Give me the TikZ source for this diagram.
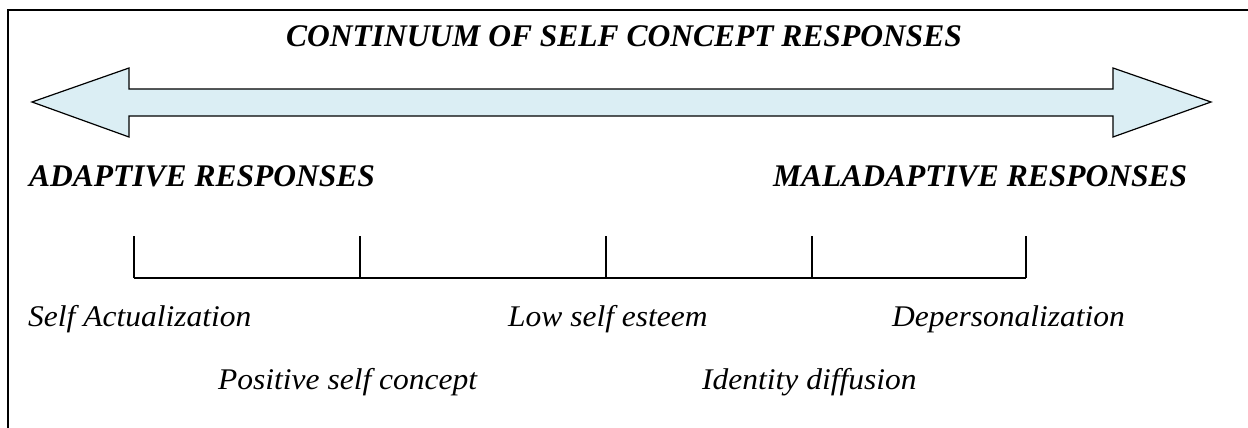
\documentclass[tikz,border=0pt]{standalone}
\usepackage{fontspec}
\setmainfont{Liberation Serif}
\newfontfamily\labelfont[FakeStretch=1.05]{Liberation Serif}

\definecolor{arrowblue}{RGB}{219,238,244}

\begin{document}
\begin{tikzpicture}[x=1pt, y=-1pt,
    heading/.style={font=\fontsize{31.5}{36}\selectfont\bfseries\itshape, inner sep=0pt, anchor=base west},
    response/.style={font=\labelfont\fontsize{30}{34}\selectfont\itshape, inner sep=0pt, anchor=base west}]

\useasboundingbox (0,0) rectangle (1248,428);

% Frame (only top and left edges are seen)
\draw[line width=1.6pt] (8,428) -- (8,10) -- (1248,10);

% Define arrow points
\coordinate (A0) at (32,102);
\coordinate (A1) at (129,68);
\coordinate (A2) at (129,89);
\coordinate (A3) at (1113,89);
\coordinate (A4) at (1113,68);
\coordinate (A5) at (1211,102);
\coordinate (A6) at (1113,137);
\coordinate (A7) at (1113,116);
\coordinate (A8) at (129,116);
\coordinate (A9) at (129,137);

% Draw double arrow
\draw[fill=arrowblue, line width=1.2pt, line join=miter]
    (A0) -- (A1) -- (A2) -- (A3) -- (A4) -- (A5) -- (A6) -- (A7) -- (A8) -- (A9) -- cycle;

% Title and both ends
\node[heading] (title) at (286,47) {CONTINUUM OF SELF CONCEPT RESPONSES};
\node[heading] (adaptive) at (29,186) {ADAPTIVE RESPONSES};
\node[heading] (maladaptive) at (773,186) {MALADAPTIVE RESPONSES};

% Scale with ticks
\foreach \x [count=\i] in {134,360,606,812,1026} {
    \coordinate (T\i) at (\x,278);
    \draw[line width=1.2pt] (T\i) -- ++(0,-42);
}
\draw[line width=1.2pt] (T1) -- (T5);

% Responses
\node[response] (actual) at (28,326) {Self Actualization};
\node[response] (positive) at (218,389) {Positive self concept};
\node[response] (lowesteem) at (508,326) {Low self esteem};
\node[response] (identity) at (702,389) {Identity diffusion};
\node[response] (depers) at (892,326) {Depersonalization};

\end{tikzpicture}
\end{document}
